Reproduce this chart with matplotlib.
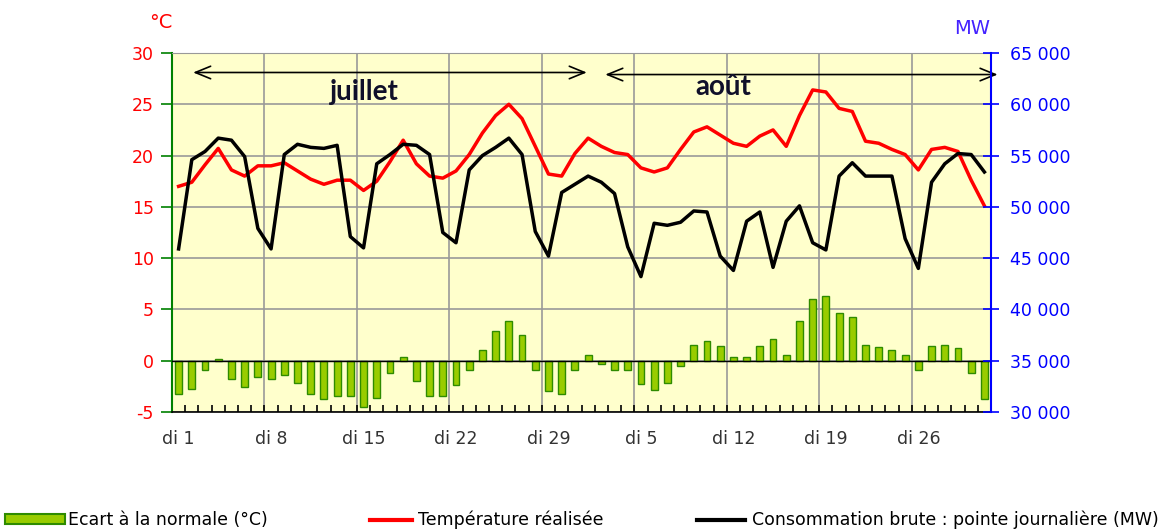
import matplotlib.pyplot as plt
from matplotlib.lines import Line2D
from matplotlib.patches import Patch

# Données : juillet (31 j) + août (31 j)
jours = list(range(62))
etiquettes = ['di 1', 'di 8', 'di 15', 'di 22', 'di 29', 'di 5', 'di 12', 'di 19', 'di 26']

temperature = [17.0, 17.4, 19.1, 20.7, 18.6, 18.0, 19.0, 19.0, 19.3, 18.5, 17.7, 17.2, 17.6, 17.6, 16.6, 17.5,
               19.4, 21.5, 19.2, 18.0, 17.8, 18.5, 20.1, 22.2, 23.9, 25.0, 23.6, 20.9, 18.2, 18.0, 20.2,
               21.7, 20.9, 20.3, 20.1, 18.8, 18.4, 18.8, 20.6, 22.3, 22.8, 22.0, 21.2, 20.9, 21.9, 22.5, 20.9,
               23.9, 26.4, 26.2, 24.6, 24.3, 21.4, 21.2, 20.6, 20.1, 18.6, 20.6, 20.8, 20.4, 17.6, 15.1]

consommation = [45900, 54600, 55400, 56700, 56500, 54900, 47900, 45900, 55100, 56100, 55800, 55700, 56000,
                47100, 46000, 54200, 55100, 56100, 56000, 55100, 47500, 46500, 53600, 55000, 55800, 56700,
                55100, 47600, 45200, 51400, 52200,
                53000, 52400, 51300, 46100, 43200, 48400, 48200, 48500, 49600, 49500, 45200, 43800, 48600,
                49500, 44100, 48600, 50100, 46500, 45800, 53000, 54300, 53000, 53000, 53000, 46900, 44000,
                52400, 54200, 55200, 55100, 53400]

ecart = [-3.2, -2.8, -0.9, 0.2, -1.8, -2.6, -1.6, -1.8, -1.4, -2.2, -3.2, -3.7, -3.4, -3.4, -4.5, -3.6,
         -1.2, 0.4, -2.0, -3.4, -3.4, -2.4, -0.9, 1.0, 2.9, 3.9, 2.5, -0.9, -3.0, -3.2, -0.9,
         0.55, -0.3, -0.9, -0.9, -2.3, -2.9, -2.2, -0.5, 1.5, 1.9, 1.4, 0.4, 0.4, 1.4, 2.1, 0.55,
         3.9, 6.0, 6.3, 4.7, 4.3, 1.5, 1.3, 1.0, 0.55, -0.9, 1.4, 1.5, 1.2, -1.2, -3.7]

vert = '#99CC00'
vert_bord = '#2E8B00'
rouge = '#FF0000'
bleu = '#0000FF'

plt.rcParams['font.family'] = 'DejaVu Sans'
plt.rcParams['axes.unicode_minus'] = False

fig = plt.figure(figsize=(11.66, 5.31), dpi=100)
ax = fig.add_axes([172 / 1166, 1 - 412 / 531, 819 / 1166, 359 / 531])
ax.set_facecolor('#FFFFCC')

# barres de l'écart à la normale
ax.bar(jours, ecart, width=0.52, color=vert, edgecolor=vert_bord, linewidth=1, zorder=3)
ax.axhline(0, color='black', lw=1, zorder=4)
ax.plot(jours, temperature, color=rouge, lw=2.5, zorder=5)

ax.set_xlim(-0.5, 61.5)
ax.set_ylim(-5, 30)
ax.set_yticks(range(-5, 31, 5))
ax.tick_params(axis='y', colors=rouge, labelsize=12.5, length=8, width=1.2, pad=5)
ax.tick_params(axis='y', which='both', color='green')
ax.set_xticks(range(0, 62, 7))
ax.set_xticklabels(etiquettes)
ax.tick_params(axis='x', which='major', length=0, labelsize=12.5, labelcolor='#333333', pad=13)
ax.set_xticks([i - 0.5 for i in range(1, 62)], minor=True)
ax.tick_params(axis='x', which='minor', direction='in', length=5, width=1.2, color='black')

# grille
for y in range(-5, 31, 5):
    ax.axhline(y, color='#999999', lw=1.2, zorder=1)
for x in range(7, 62, 7):
    ax.axvline(x - 0.5, color='#999999', lw=1.2, zorder=1)

ax.spines['left'].set_color('green')
ax.spines['left'].set_linewidth(1.5)
ax.spines['bottom'].set_color('black')
ax.spines['bottom'].set_linewidth(1.2)
ax.spines['top'].set_color('#999999')
ax.spines['right'].set_visible(False)

# axe de droite : consommation
ax2 = ax.twinx()
ax2.plot(jours, consommation, color='black', lw=2.5, zorder=6)
ax2.set_ylim(30000, 65000)
mw_ticks = list(range(30000, 65001, 5000))
ax2.set_yticks(mw_ticks)
ax2.set_yticklabels(['{} 000'.format(v // 1000) for v in mw_ticks])
ax2.tick_params(axis='y', colors=bleu, labelsize=12.5, direction='inout', length=12, width=1.2, pad=8)
ax2.spines['right'].set_color(bleu)
ax2.spines['right'].set_linewidth(1.5)
for s in ['left', 'top', 'bottom']:
    ax2.spines[s].set_visible(False)

# flèches des mois
fleche = dict(arrowstyle='<->,head_length=1.1,head_width=0.45', color='black', lw=1.2,
              shrinkA=0, shrinkB=0)
ax.annotate('', xy=(1.1, 28.1), xytext=(30.9, 28.1), arrowprops=fleche, zorder=7)
ax.annotate('', xy=(32.3, 27.9), xytext=(62.0, 27.9), arrowprops=fleche, zorder=7,
            annotation_clip=False)
ax.text(14.1, 26.2, 'juillet', ha='center', va='center', fontsize=20, fontweight='bold',
        family='Lato', color='#10102A', zorder=8)
ax.text(41.2, 26.7, 'août', ha='center', va='center', fontsize=20, fontweight='bold',
        family='Lato', color='#10102A', zorder=8)

# unités
fig.text(161 / 1166, 1 - 22 / 531, '°C', color=rouge, fontsize=14, ha='center', va='center')
fig.text(972 / 1166, 1 - 29 / 531, 'MW', color='#4422FF', fontsize=14, ha='center', va='center')

# légende
entrees = [
    (Patch(facecolor=vert, edgecolor=vert_bord, linewidth=1.5), 'Ecart à la normale (°C)', 5 / 1166, 3.45, 0.15),
    (Line2D([], [], color=rouge, lw=3), 'Température réalisée', 370 / 1166, 2.4, 0.35),
    (Line2D([], [], color='black', lw=3), 'Consommation brute : pointe journalière (MW)', 697 / 1166, 2.75, 0.4),
]
for h, lab, x, hl, pad in entrees:
    fig.legend(handles=[h], labels=[lab], loc='center left', bbox_to_anchor=(x, 1 - 520 / 531),
               frameon=False, fontsize=12.5, handlelength=hl, handleheight=0.5, handletextpad=pad,
               borderpad=0, borderaxespad=0)

fig.savefig('out.png', dpi=100)
